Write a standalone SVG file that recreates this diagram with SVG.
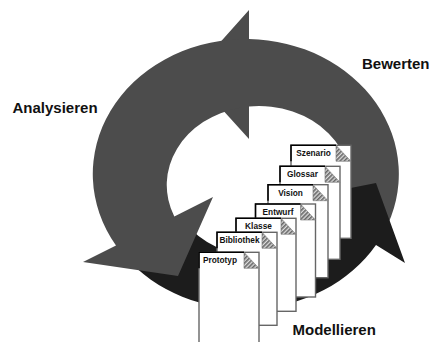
<svg xmlns="http://www.w3.org/2000/svg" width="430" height="342" viewBox="0 0 430 342">
<style>
.gray{fill:#4c4c4c}
.black{fill:#1c1c1c}
.page{fill:#fff;stroke:#666;stroke-width:1.4}
.fold{fill:url(#hatch);stroke:#777;stroke-width:0.6}
.tab{fill:none;stroke:#000;stroke-width:1.5}
.dl{font-family:"Liberation Sans",Arial,sans-serif;font-weight:bold;font-size:8.3px;fill:#111;text-anchor:middle}
.big{font-family:"Liberation Sans",Arial,sans-serif;font-weight:bold;font-size:15px;fill:#111}
</style>
<defs>
<pattern id="hatch" width="3" height="3" patternUnits="userSpaceOnUse" patternTransform="rotate(45)">
<rect width="3" height="3" fill="#dcdcdc"/>
<rect width="1.6" height="3" fill="#666"/>
</pattern>
</defs>
<rect width="430" height="342" fill="#fff"/>
<g id="connectors">
<path id="arrow-bewerten" class="gray" d="M384,232 A153,135 0 0 0 249,39.03 L249,10 L191,75 L249,139 L249,106.5 A92,79 0 0 1 348,205 Z"/>
<path id="arrow-modellieren" class="black" d="M125,256.6 A153,135 0 0 0 376,245 L405,263 L376,183 L300,198 L339,222 A90,72 0 0 1 191.7,230 Z"/>
<path id="arrow-analysieren" class="gray" d="M240,39.1 A153,135 0 0 0 116,245.5 L83,262 L178,276 L213,197 L174.3,216.4 A92,79 0 0 1 240,107.7 Z"/>
</g>
<g id="label-analysieren"><text class="big" x="12.5" y="113">Analysieren</text></g>
<g id="label-bewerten"><text class="big" x="362" y="68.5">Bewerten</text></g>
<g id="label-modellieren"><text class="big" x="292.5" y="335">Modellieren</text></g>
<g id="doc-szenario" transform="translate(291,145.3)">
<rect class="page" width="60" height="93"/><path class="fold" d="M45,0 V16 H60 Z"/><path class="tab" d="M0,16 V0 H45"/><text class="dl" x="22.5" y="11">Szenario</text>
</g>
<g id="doc-glossar" transform="translate(280,166.3)">
<rect class="page" width="60" height="93"/><path class="fold" d="M45,0 V16 H60 Z"/><path class="tab" d="M0,16 V0 H45"/><text class="dl" x="22.5" y="11">Glossar</text>
</g>
<g id="doc-vision" transform="translate(268,184.7)">
<rect class="page" width="60" height="93"/><path class="fold" d="M45,0 V16 H60 Z"/><path class="tab" d="M0,16 V0 H45"/><text class="dl" x="22.5" y="11">Vision</text>
</g>
<g id="doc-entwurf" transform="translate(255.5,204)">
<rect class="page" width="60" height="93"/><path class="fold" d="M45,0 V16 H60 Z"/><path class="tab" d="M0,16 V0 H45"/><text class="dl" x="22.5" y="11">Entwurf</text>
</g>
<g id="doc-klasse" transform="translate(236,218.3)">
<rect class="page" width="60" height="93"/><path class="fold" d="M45,0 V16 H60 Z"/><path class="tab" d="M0,16 V0 H45"/><text class="dl" x="22.5" y="11">Klasse</text>
</g>
<g id="doc-bibliothek" transform="translate(217,232.3)">
<rect class="page" width="60" height="93"/><path class="fold" d="M45,0 V16 H60 Z"/><path class="tab" d="M0,16 V0 H45"/><text class="dl" x="22.5" y="11">Bibliothek</text>
</g>
<g id="doc-prototyp" transform="translate(199,252.3)">
<rect class="page" width="60" height="93"/><path class="fold" d="M45,0 V16 H60 Z"/><path class="tab" d="M0,16 V0 H45"/><text class="dl" x="21" y="11">Prototyp</text>
</g>
</svg>
